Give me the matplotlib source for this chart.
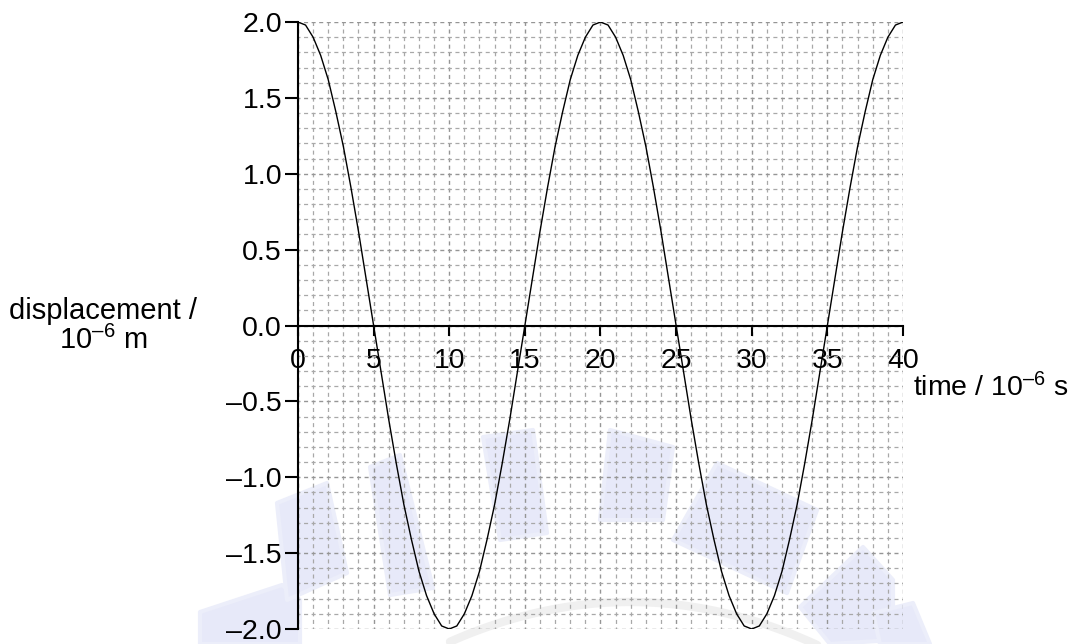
import numpy as np
import matplotlib
matplotlib.use("Agg")
from matplotlib import pyplot as plt
from matplotlib.patches import Polygon
from matplotlib.ticker import MultipleLocator, FuncFormatter

plt.rcParams['font.family'] = ['Liberation Sans', 'DejaVu Sans']
plt.rcParams['mathtext.fontset'] = 'custom'
plt.rcParams['mathtext.rm'] = 'Liberation Sans'
plt.rcParams['mathtext.it'] = 'Liberation Sans:italic'
plt.rcParams['lines.scale_dashes'] = False

# temps (10^-6 s) et déplacement (10^-6 m)
time_us = [0, 0.5, 1, 1.5, 2, 2.5, 3, 3.5, 4, 4.5,
           5, 5.5, 6, 6.5, 7, 7.5, 8, 8.5, 9, 9.5,
           10, 10.5, 11, 11.5, 12, 12.5, 13, 13.5, 14, 14.5,
           15, 15.5, 16, 16.5, 17, 17.5, 18, 18.5, 19, 19.5,
           20, 20.5, 21, 21.5, 22, 22.5, 23, 23.5, 24, 24.5,
           25, 25.5, 26, 26.5, 27, 27.5, 28, 28.5, 29, 29.5,
           30, 30.5, 31, 31.5, 32, 32.5, 33, 33.5, 34, 34.5,
           35, 35.5, 36, 36.5, 37, 37.5, 38, 38.5, 39, 39.5, 40]
displacement = [2.00, 1.98, 1.90, 1.78, 1.62, 1.41, 1.18, 0.91, 0.62, 0.31,
                0.00, -0.31, -0.62, -0.91, -1.18, -1.41, -1.62, -1.78, -1.90, -1.98,
                -2.00, -1.98, -1.90, -1.78, -1.62, -1.41, -1.18, -0.91, -0.62, -0.31,
                0.00, 0.31, 0.62, 0.91, 1.18, 1.41, 1.62, 1.78, 1.90, 1.98,
                2.00, 1.98, 1.90, 1.78, 1.62, 1.41, 1.18, 0.91, 0.62, 0.31,
                0.00, -0.31, -0.62, -0.91, -1.18, -1.41, -1.62, -1.78, -1.90, -1.98,
                -2.00, -1.98, -1.90, -1.78, -1.62, -1.41, -1.18, -0.91, -0.62, -0.31,
                0.00, 0.31, 0.62, 0.91, 1.18, 1.41, 1.62, 1.78, 1.90, 1.98, 2.00]

x_ticks = [0, 5, 10, 15, 20, 25, 30, 35, 40]
x_labels = ['0', '5', '10', '15', '20', '25', '30', '35', '40']

W, H = 1075, 644
fig = plt.figure(figsize=(W / 100, H / 100), dpi=100)
ax = fig.add_axes([0.2772, 0.0233, 0.5628, 0.9425])

ax.set_xlim(0, 40)
ax.set_ylim(-2, 2)

# filigrane bleu pâle (approximatif, en pixels de l'image)
blobs = [
    [(200, 612), (282, 585), (300, 600), (300, 644), (200, 644)],
    [(277, 503), (327, 483), (347, 573), (287, 600)],
    [(370, 467), (400, 455), (433, 588), (390, 595)],
    [(483, 437), (533, 430), (547, 533), (500, 540)],
    [(610, 430), (673, 447), (663, 520), (600, 520)],
    [(673, 540), (717, 463), (817, 510), (787, 593)],
    [(800, 607), (863, 547), (893, 580), (893, 640), (830, 644)],
    [(873, 613), (913, 603), (930, 644), (880, 644)],
]
for b in blobs:
    pts = [(x / W, 1 - y / H) for x, y in b]
    ax.add_patch(Polygon(pts, closed=True, transform=fig.transFigure, clip_on=False,
                         facecolor='#e7e9f9', edgecolor='#eceefa', linewidth=3,
                         joinstyle='round', zorder=0.2))
arc_x = np.linspace(450, 820, 60)
arc_y = 602 + ((arc_x - 630) / 185) ** 2 * 42
ax.plot(arc_x / W, 1 - arc_y / H, transform=fig.transFigure, clip_on=False,
        color='#f0f0f0', linewidth=6, solid_capstyle='round', zorder=0.2)

# quadrillage pointillé, tirets centrés sur les croisements
ax.xaxis.set_minor_locator(MultipleLocator(1))
ax.yaxis.set_minor_locator(MultipleLocator(0.1))
ax.yaxis.set_major_locator(MultipleLocator(0.5))
dash = (1.45, (2.9, 2.55))
ax.grid(which='minor', color='#a8a8a8', linestyle=dash, linewidth=0.9)
ax.grid(which='major', color='#959595', linestyle=dash, linewidth=1.0)
ax.set_axisbelow(True)
ax.patch.set_alpha(0)
ax.tick_params(which='minor', length=0)

ax.plot(time_us, displacement, color='black', linewidth=1.0, zorder=3)

# axes
ax.spines['top'].set_visible(False)
ax.spines['right'].set_visible(False)
ax.spines['bottom'].set_position(('data', 0))
ax.spines['left'].set_linewidth(1.5)
ax.spines['bottom'].set_linewidth(1.5)

ax.set_xticks(x_ticks)
ax.set_xticklabels(x_labels)
ax.yaxis.set_major_formatter(FuncFormatter(lambda v, p: f"{v:.1f}".replace('-', '\u2013')))
ax.tick_params(axis='x', which='major', direction='out', length=7, width=1.5,
               labelsize=20.5, pad=9.5)
ax.tick_params(axis='y', which='major', direction='out', length=9.5, width=1.5,
               labelsize=20.5, pad=2)

fig.text(103 / W, 1 - 326 / H, 'displacement /\n10$^{\u20136}$ m', ha='center',
         va='center', fontsize=21, linespacing=1.05, multialignment='center')
fig.text(913 / W, 1 - 388 / H, 'time / 10$^{\u20136}$ s', ha='left',
         va='center', fontsize=20.5)

fig.savefig('out.png', dpi=100)
